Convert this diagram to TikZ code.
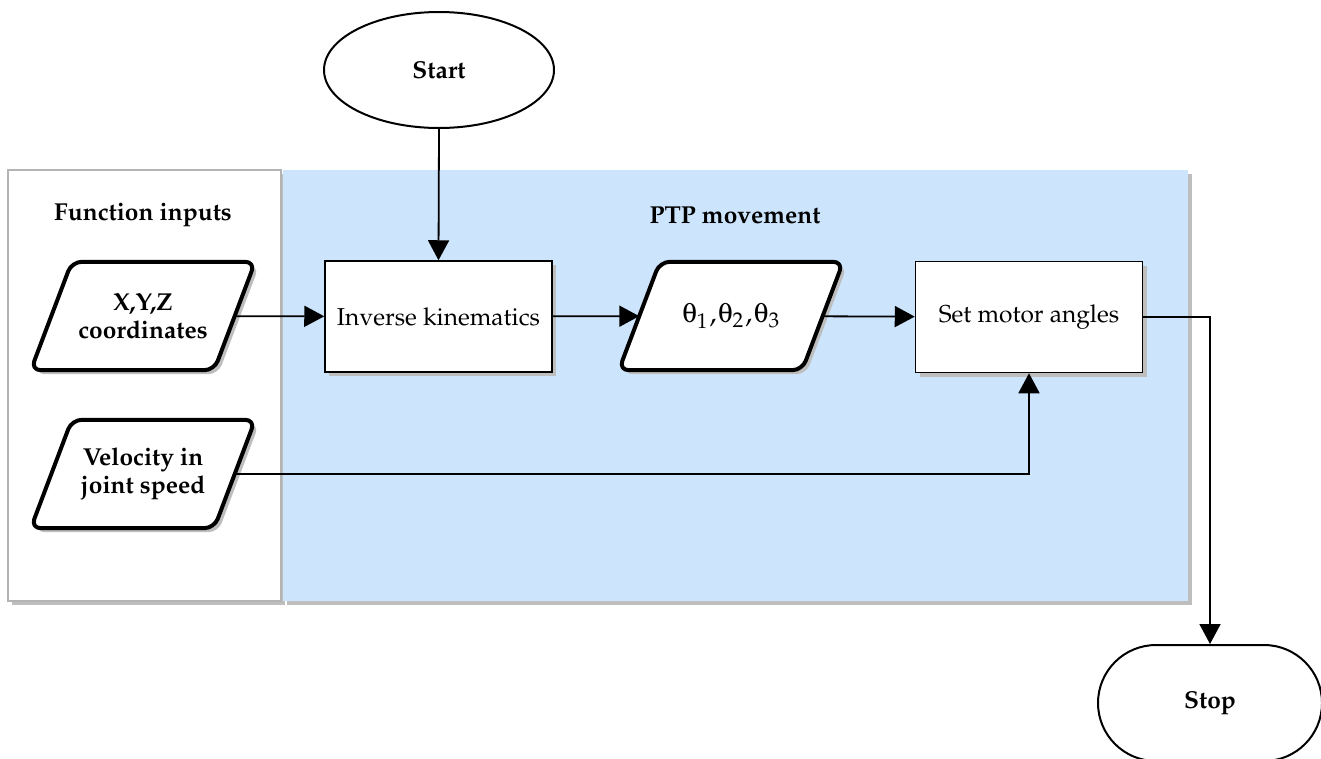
\documentclass[tikz,border=0pt]{standalone}
\usepackage[T1]{fontenc}
\usepackage{mathpazo}
\usepackage[Symbol]{upgreek}
\usetikzlibrary{shapes.geometric,shapes.misc,shadows,arrows.meta}
\pgfdeclarelayer{bg}
\pgfdeclarelayer{mid}
\pgfsetlayers{bg,mid,main}
\definecolor{ptpblue}{RGB}{204,228,252}
\definecolor{boxgray}{RGB}{180,180,180}
\definecolor{shadowgray}{RGB}{190,190,190}
\tikzset{
  base/.style={font=\fontsize{24.5}{28}\selectfont, align=center, inner sep=0pt},
  sh/.style={drop shadow={shadow xshift=4pt, shadow yshift=-4pt, fill=shadowgray, opacity=1}},
  container/.style={draw=boxgray, line width=1.5pt, sh},
  procbox/.style={base, draw, line width=1.5pt, fill=white, minimum width=227pt, minimum height=111pt, sh},
  iotext/.style={base, font=\fontsize{24.5}{28}\selectfont\bfseries, minimum width=183pt, minimum height=108pt},
  iopath/.style={draw, line width=4pt, fill=white, rounded corners=10pt, line join=round, sh},
  terminal/.style={base, font=\fontsize{24.5}{28}\selectfont\bfseries, draw, line width=2pt, fill=white},
  arr/.style={line width=1.8pt, -{Triangle[length=20pt,width=21pt]}},
  title/.style={base, font=\fontsize{24.5}{28}\selectfont\bfseries}
}
\newcommand\ioframe[1]{%
  \begin{pgfonlayer}{mid}
  \path[iopath] ([xshift=20.5pt]#1.north east) -- ([xshift=-20.5pt]#1.south east)
    -- ([xshift=-20.5pt]#1.south west) -- ([xshift=20.5pt]#1.north west) -- cycle;
  \end{pgfonlayer}}
\begin{document}
\begin{tikzpicture}[x=1pt,y=-1pt]
\useasboundingbox (0,0) rectangle (1321,758);
% containers
\begin{pgfonlayer}{bg}
\node (fin) [container, fill=white, minimum width=273pt, minimum height=431pt] at (144.5,385.5) {};
\node (ptp) [container, draw=none, fill=ptpblue, minimum width=905pt, minimum height=431pt] at (735.5,385.5) {};
\end{pgfonlayer}
\node (finlab) [title] at (143,215) {Function inputs};
\node (ptplab) [title] at (735,215) {PTP movement};
% terminals
\node (start) [terminal, ellipse, minimum width=230pt, minimum height=116pt] at (439,70) {Start};
\node (stop) [terminal, rounded rectangle, minimum width=224pt, minimum height=116pt] at (1210,703) {Stop};
% process
\node (ik) [procbox] at (438.5,316.5) {Inverse kinematics};
\node (sma) [procbox] at (1029,317) {Set motor angles};
% io
\node (xyz) [iotext] at (143,316) {X,Y,Z\\coordinates};
\ioframe{xyz}
\node (vel) [iotext] at (143,474) {Velocity in\\joint speed};
\ioframe{vel}
\node (theta) [iotext, font=\fontsize{28}{32}\selectfont] at (731,316) {$\uptheta_1\mkern1mu{,}\mkern1mu\uptheta_2\mkern1mu{,}\mkern1mu\uptheta_3$};
\ioframe{theta}
% connectors
\draw[arr] (start.south) -- (ik.north);
\draw[arr] (xyz) -- (ik);
\draw[arr] (ik) -- (theta);
\draw[arr] (theta) -- (sma);
\draw[arr] (sma.east) -| (stop.north);
\draw[arr] (vel.east) -| (sma.south);
\end{tikzpicture}
\end{document}
